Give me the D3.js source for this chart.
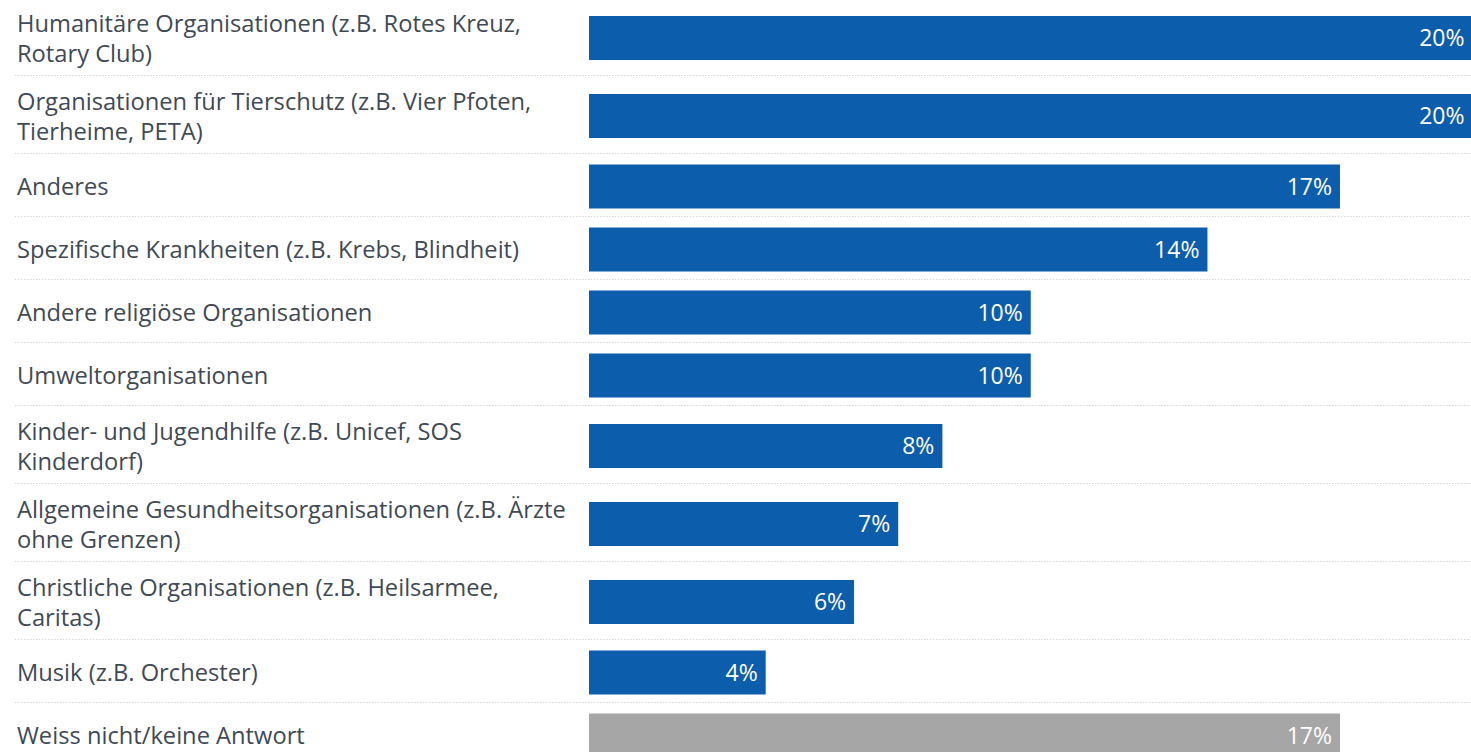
<!DOCTYPE html>
<html><head><meta charset="utf-8">
<script src="https://cdn.jsdelivr.net/npm/d3@7"></script>
<style>html,body{margin:0;padding:0;background:#fff;overflow:hidden}</style>
</head><body>
<svg id="c" width="1471" height="752"></svg>
<script>
const categories = [
  "Humanitäre Organisationen (z.B. Rotes Kreuz,\nRotary Club)",
  "Organisationen für Tierschutz (z.B. Vier Pfoten,\nTierheime, PETA)",
  "Anderes",
  "Spezifische Krankheiten (z.B. Krebs, Blindheit)",
  "Andere religiöse Organisationen",
  "Umweltorganisationen",
  "Kinder- und Jugendhilfe (z.B. Unicef, SOS\nKinderdorf)",
  "Allgemeine Gesundheitsorganisationen (z.B. Ärzte\nohne Grenzen)",
  "Christliche Organisationen (z.B. Heilsarmee,\nCaritas)",
  "Musik (z.B. Orchester)",
  "Weiss nicht/keine Antwort"
];
const values = [20, 20, 17, 14, 10, 10, 8, 7, 6, 4, 17];
const isNeutral = [false, false, false, false, false, false, false, false, false, false, true];

const svg = d3.select("#c");
const font = "'Open Sans', 'Noto Sans', sans-serif";
const textColor = "#3f4a54";
const blue = "#0c5dab";
const gray = "#a6a6a6";

const rows = categories.map((c, i) => ({cat: c, lines: c.split("\n"), v: values[i], neutral: isNeutral[i]}));
let y0 = -1;
rows.forEach(r => { r.h = r.lines.length > 1 ? 78 : 63; r.top = y0; y0 += r.h; });

const x = d3.scaleLinear().domain([0, 20]).range([589, 1472.5]);

const g = svg.append("g");
const row = g.selectAll("g.row").data(rows).join("g").attr("class", "row")
  .attr("transform", d => `translate(0,${d.top})`);

row.filter((d, i) => i < rows.length - 1).append("line")
  .attr("x1", 15).attr("x2", 1471)
  .attr("y1", d => d.h - 1.5).attr("y2", d => d.h - 1.5)
  .attr("stroke", "#d6d6d6").attr("stroke-width", 1).attr("stroke-dasharray", "1.5,1.5");

row.append("rect")
  .attr("x", x(0))
  .attr("y", d => d.h / 2 - 22)
  .attr("height", 44)
  .attr("width", d => x(d.v) - x(0))
  .attr("fill", d => d.neutral ? gray : blue);

row.append("text")
  .attr("x", d => x(d.v) - 8)
  .attr("y", d => d.h / 2)
  .attr("dy", "0.36em")
  .attr("text-anchor", "end")
  .attr("fill", "#fff")
  .style("font-family", font).style("font-size", "23px")
  .text(d => d.v + "%");

const lbl = row.append("text")
  .attr("fill", textColor)
  .style("font-family", font).style("font-size", "23.7px");
lbl.selectAll("tspan").data(d => d.lines.map((l, j) => ({l, j, n: d.lines.length, h: d.h})))
  .join("tspan")
  .attr("x", 17)
  .attr("y", t => t.h / 2 + (t.j - (t.n - 1) / 2) * 30)
  .attr("dy", "0.36em")
  .text(t => t.l);
</script>
</body></html>
